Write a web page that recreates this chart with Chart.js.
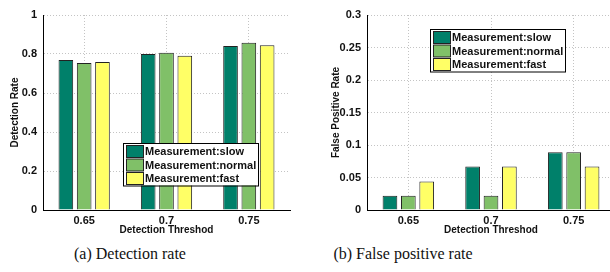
<!DOCTYPE html>
<html>
<head>
<meta charset="utf-8">
<script src="https://cdn.jsdelivr.net/npm/chart.js@4/dist/chart.umd.min.js"></script>
<style>
  html, body { margin: 0; padding: 0; background: #fff; }
  body { width: 610px; height: 272px; position: relative; overflow: hidden; }
  .box { position: absolute; top: 0; height: 240px; }
  .cap { position: absolute; top: 245px; font: 16px "Liberation Serif", serif; color: #111; text-align: center; }
</style>
</head>
<body>
<div class="box" style="left:0;width:305px"><canvas id="detChart"></canvas></div>
<div class="box" style="left:305px;width:310px"><canvas id="fpChart"></canvas></div>
<div class="cap" style="left:30px;width:200px">(a) Detection rate</div>
<div class="cap" style="left:303px;width:200px">(b) False positive rate</div>
<script>
const thresholds = ["0.65", "0.7", "0.75"];
const seriesNames = ["Measurement:slow", "Measurement:normal", "Measurement:fast"];
const seriesColors = ["#00806a", "#80c068", "#ffff66"];

// detection rate
const detSlow = [0.769, 0.800, 0.841];
const detNormal = [0.754, 0.807, 0.858];
const detFast = [0.759, 0.791, 0.845];

// false positive rate
const fpSlow = [0.022, 0.067, 0.089];
const fpNormal = [0.022, 0.022, 0.089];
const fpFast = [0.044, 0.067, 0.067];

const boldFont = "'Liberation Sans', Arial, sans-serif";

// legend box drawn inside the plot, like the matlab one
function legendBox(x, y) {
  return {
    id: "boxLegend",
    afterDraw(chart) {
      const ctx = chart.ctx;
      const w = 135, rowH = 13.5, h = rowH * 3 + 2;
      ctx.save();
      ctx.fillStyle = "#fff";
      ctx.fillRect(x, y, w, h);
      ctx.strokeStyle = "#000";
      ctx.lineWidth = 1;
      ctx.strokeRect(x + 0.5, y + 0.5, w, h);
      chart.data.datasets.forEach((ds, i) => {
        const ry = y + 2 + i * rowH;
        ctx.fillStyle = ds.backgroundColor;
        ctx.fillRect(x + 3, ry + 0.5, 17, 12);
        ctx.strokeStyle = "#222";
        ctx.strokeRect(x + 3.5, ry + 0.5, 17, 12);
        ctx.fillStyle = "#111";
        ctx.font = "bold 11px " + boldFont;
        ctx.textBaseline = "middle";
        ctx.fillText(ds.label, x + 22, ry + 7);
      });
      ctx.restore();
    }
  };
}

function makeDatasets(a, b, c) {
  return [a, b, c].map((vals, i) => ({
    label: seriesNames[i],
    data: vals,
    backgroundColor: seriesColors[i],
    borderColor: "#222",
    borderWidth: 1,
    categoryPercentage: 0.667,
    barPercentage: 0.8
  }));
}

function makeChart(id, datasets, yMax, yStep, yTitle, yAxisW, titlePad, rightPad, legendPos) {
  return new Chart(document.getElementById(id), {
    type: "bar",
    data: { labels: thresholds, datasets: datasets },
    options: {
      responsive: true,
      maintainAspectRatio: false,
      animation: false,
      layout: { padding: { left: 0, right: rightPad, top: 15, bottom: 4 } },
      plugins: { legend: { display: false }, tooltip: { enabled: false } },
      scales: {
        x: {
          offset: true,
          grid: { offset: false, color: "#c4c4c4", drawTicks: false },
          border: { display: true, color: "#000", width: 1, dash: [1, 2] },
          ticks: { color: "#111", padding: 4, font: { family: boldFont, size: 11, weight: "bold" } },
          title: { display: true, text: "Detection Threshod", color: "#111", padding: { top: 0, bottom: 0 },
                   font: { family: boldFont, size: 10, weight: "bold" } },
          afterFit(s) { s.height = 26; }
        },
        y: {
          min: 0, max: yMax,
          grid: { color: "#c4c4c4", drawTicks: false },
          border: { display: true, color: "#000", width: 1, dash: [1, 2] },
          ticks: { stepSize: yStep, color: "#111", padding: 6, font: { family: boldFont, size: 11, weight: "bold" },
                   callback: v => String(+v.toFixed(2)) },
          title: { display: true, text: yTitle, color: "#111", padding: { top: titlePad, bottom: 0 },
                   font: { family: boldFont, size: 10, weight: "bold" } },
          afterFit(s) { s.width = yAxisW; }
        }
      }
    },
    plugins: [legendBox(legendPos[0], legendPos[1])]
  });
}

makeChart("detChart", makeDatasets(detSlow, detNormal, detFast), 1, 0.2, "Detection Rate", 43, 9, 15, [123, 143]);
makeChart("fpChart", makeDatasets(fpSlow, fpNormal, fpFast), 0.3, 0.05, "False Positive Rate", 62, 25, 0, [125, 29]);
</script>
</body>
</html>
